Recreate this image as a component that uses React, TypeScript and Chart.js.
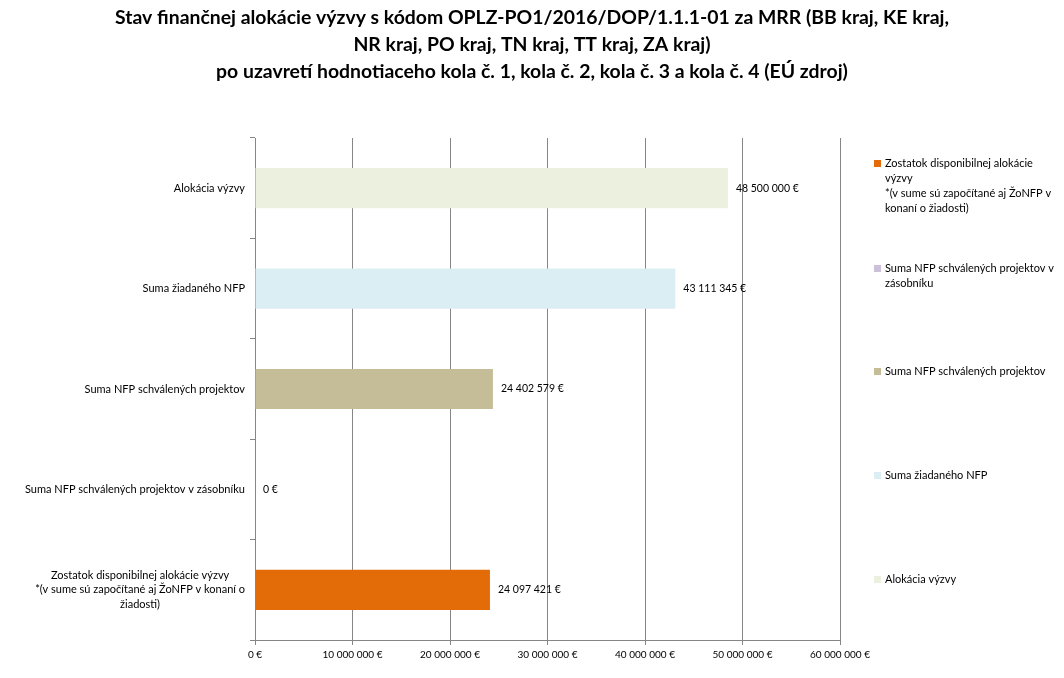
import React, { useEffect, useRef } from "react";
import { Chart, registerables } from "chart.js";

Chart.register(...registerables);

const titleLines = [
  "Stav finančnej alokácie výzvy s kódom OPLZ-PO1/2016/DOP/1.1.1-01 za MRR (BB kraj, KE kraj,",
  "NR kraj, PO kraj, TN kraj, TT kraj, ZA kraj)",
  "po uzavretí hodnotiaceho kola č. 1, kola č. 2, kola č. 3 a kola č. 4 (EÚ zdroj)",
];

const categories: string[][] = [
  ["Alokácia výzvy"],
  ["Suma žiadaného NFP"],
  ["Suma NFP schválených projektov"],
  ["Suma NFP schválených projektov v zásobníku"],
  ["Zostatok disponibilnej alokácie výzvy", "*(v sume sú započítané aj ŽoNFP v konaní o", "žiadosti)"],
];

const values = [48500000, 43111345, 24402579, 0, 24097421];

const barColors = ["#EBF1DE", "#DBEEF4", "#C4BD97", "#CCC1DA", "#E36C09"];

// legend entries, top to bottom (reverse of category order)
const legendLines: string[][] = [
  ["Zostatok disponibilnej alokácie", "výzvy", "*(v sume sú započítané aj ŽoNFP v", "konaní o žiadosti)"],
  ["Suma NFP schválených projektov v", "zásobníku"],
  ["Suma NFP schválených projektov"],
  ["Suma žiadaného NFP"],
  ["Alokácia výzvy"],
];
const legendColors = ["#E36C09", "#CCC1DA", "#C4BD97", "#DBEEF4", "#EBF1DE"];

const xMax = 60000000;
const xStep = 10000000;

const FONT = "Lato, 'Liberation Sans', sans-serif";

function fmt(n: number): string {
  return String(Math.round(n)).replace(/\B(?=(\d{3})+(?!\d))/g, " ") + " €";
}

const titlePlugin = {
  id: "centerTitle",
  afterDraw(chart: any) {
    const ctx = chart.ctx;
    ctx.save();
    ctx.font = `bold 19.4px ${FONT}`;
    ctx.fillStyle = "#000";
    ctx.textAlign = "center";
    ctx.textBaseline = "middle";
    titleLines.forEach((ln, i) => {
      ctx.fillText(ln, chart.width / 2, 18 + i * 27);
    });
    ctx.restore();
  },
};

const yLabelPlugin = {
  id: "yLabels",
  afterDraw(chart: any) {
    const ctx = chart.ctx;
    const ys = chart.scales.y;
    const lineH = 14.5;
    const right = ys.right - 10;
    ctx.save();
    ctx.font = `11px ${FONT}`;
    ctx.fillStyle = "#000";
    ctx.textAlign = "center";
    ctx.textBaseline = "middle";
    categories.forEach((lines, i) => {
      const cy = ys.getPixelForValue(i);
      const w = Math.max(...lines.map((l) => ctx.measureText(l).width));
      const cx = right - w / 2;
      const y0 = cy - ((lines.length - 1) * lineH) / 2;
      lines.forEach((l, j) => ctx.fillText(l, cx, y0 + j * lineH));
    });
    ctx.restore();
  },
};

const dataLabelPlugin = {
  id: "dataLabels",
  afterDatasetsDraw(chart: any) {
    const ctx = chart.ctx;
    const meta = chart.getDatasetMeta(0);
    ctx.save();
    ctx.font = `10.5px ${FONT}`;
    ctx.fillStyle = "#000";
    ctx.textAlign = "left";
    ctx.textBaseline = "middle";
    meta.data.forEach((bar: any, i: number) => {
      ctx.fillText(fmt(values[i]), bar.x + 8, bar.y);
    });
    ctx.restore();
  },
};

const legendPlugin = {
  id: "sideLegend",
  afterDraw(chart: any) {
    const ctx = chart.ctx;
    const tops = [163, 268, 371, 475, 579];
    const lineH = 15;
    ctx.save();
    ctx.font = `11px ${FONT}`;
    ctx.textAlign = "left";
    ctx.textBaseline = "middle";
    legendLines.forEach((lines, i) => {
      const y0 = tops[i];
      ctx.fillStyle = legendColors[i];
      ctx.fillRect(874, y0 - 3, 7, 7);
      ctx.fillStyle = "#000";
      lines.forEach((ln, j) => {
        ctx.fillText(ln, 885, y0 + j * lineH);
      });
    });
    ctx.restore();
  },
};

export default function App() {
  const canvasRef = useRef<HTMLCanvasElement | null>(null);

  useEffect(() => {
    document.body.style.margin = "0";
    const canvas = canvasRef.current;
    if (!canvas) return;
    const chart = new Chart(canvas, {
      type: "bar",
      data: {
        labels: categories.map((c) => c.join(" ")),
        datasets: [
          {
            data: values,
            backgroundColor: barColors,
            borderWidth: 0,
            barPercentage: 0.4,
            categoryPercentage: 1.0,
          },
        ],
      },
      options: {
        indexAxis: "y",
        animation: false,
        responsive: true,
        maintainAspectRatio: false,
        layout: { padding: { left: 0, right: 224, top: 138, bottom: 0 } },
        plugins: {
          legend: { display: false },
          tooltip: { enabled: false },
          title: { display: false },
        },
        scales: {
          x: {
            min: 0,
            max: xMax,
            ticks: {
              stepSize: xStep,
              color: "#000",
              font: { family: FONT, size: 10 },
              padding: 4,
              maxRotation: 0,
              callback: (v: any) => fmt(Number(v)),
            },
            grid: {
              color: "#868686",
              lineWidth: 1,
              drawTicks: true,
              tickLength: 5,
            },
            border: { color: "#868686" },
            afterFit: (axis: any) => {
              axis.height = 38;
            },
          },
          y: {
            ticks: { display: false },
            grid: {
              offset: true,
              drawOnChartArea: false,
              drawTicks: true,
              tickLength: 5,
              color: "#868686",
            },
            border: { color: "#868686" },
            afterFit: (axis: any) => {
              axis.width = 255;
            },
          },
        },
      } as any,
      plugins: [dataLabelPlugin, yLabelPlugin, legendPlugin, titlePlugin],
    });
    return () => chart.destroy();
  }, []);

  return (
    <div style={{ position: "relative", width: "1064px", height: "678px", background: "#fff" }}>
      <canvas ref={canvasRef} />
    </div>
  );
}
